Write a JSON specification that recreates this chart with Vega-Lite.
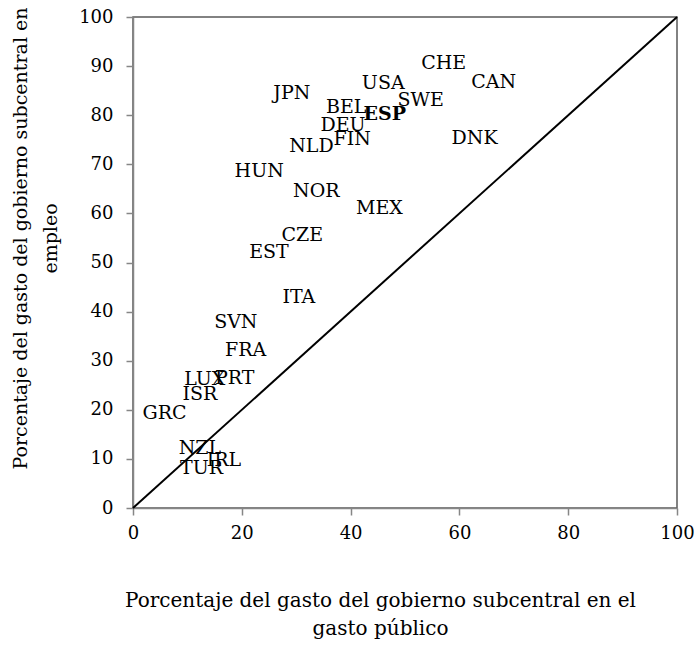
{
  "$schema": "https://vega.github.io/schema/vega-lite/v6.json",
  "width": 544,
  "height": 491,
  "autosize": "none",
  "padding": {"left": 133, "top": 17, "right": 17, "bottom": 138},
  "background": "white",
  "config": {
    "font": "DejaVu Serif",
    "view": {"stroke": "#595959", "strokeWidth": 1.5}
  },
  "datasets": {
    "diag": [{"x": 0, "y": 0, "x2": 100, "y2": 100}],
    "paises": [
      {"pais": "CHE", "gasto": 57.1, "empleo": 90.6},
      {"pais": "CAN", "gasto": 66.3, "empleo": 86.8},
      {"pais": "USA", "gasto": 46.0, "empleo": 86.6},
      {"pais": "JPN", "gasto": 29.2, "empleo": 84.5},
      {"pais": "SWE", "gasto": 52.9, "empleo": 83.0},
      {"pais": "BEL", "gasto": 39.2, "empleo": 81.7},
      {"pais": "ESP", "gasto": 46.3, "empleo": 80.2},
      {"pais": "DEU", "gasto": 38.6, "empleo": 78.0},
      {"pais": "FIN", "gasto": 40.3, "empleo": 75.1},
      {"pais": "NLD", "gasto": 32.8, "empleo": 73.7},
      {"pais": "DNK", "gasto": 62.8, "empleo": 75.4},
      {"pais": "HUN", "gasto": 23.2, "empleo": 68.6},
      {"pais": "NOR", "gasto": 33.7, "empleo": 64.6},
      {"pais": "MEX", "gasto": 45.3, "empleo": 61.0},
      {"pais": "CZE", "gasto": 31.1, "empleo": 55.5},
      {"pais": "EST", "gasto": 25.0, "empleo": 52.1},
      {"pais": "ITA", "gasto": 30.5, "empleo": 43.0},
      {"pais": "SVN", "gasto": 18.9, "empleo": 37.9},
      {"pais": "FRA", "gasto": 20.7, "empleo": 32.2},
      {"pais": "LUX", "gasto": 13.2, "empleo": 26.2},
      {"pais": "PRT", "gasto": 18.7, "empleo": 26.4},
      {"pais": "ISR", "gasto": 12.3, "empleo": 23.2},
      {"pais": "GRC", "gasto": 5.8, "empleo": 19.3},
      {"pais": "NZL", "gasto": 12.3, "empleo": 12.2},
      {"pais": "IRL", "gasto": 16.7, "empleo": 9.8},
      {"pais": "TUR", "gasto": 12.6, "empleo": 8.1}
    ]
  },
  "layer": [
    {
      "data": {"name": "diag"},
      "mark": {"type": "rule", "color": "black", "strokeWidth": 2},
      "encoding": {
        "x": {"field": "x", "type": "quantitative", "scale": {"domain": [0, 100], "nice": false},
          "axis": {
            "values": [0, 20, 40, 60, 80, 100],
            "grid": false,
            "domainColor": "#868686",
            "domainWidth": 1.5,
            "tickColor": "#868686",
            "tickWidth": 1.5,
            "tickSize": 7,
            "labelFontSize": 18,
            "labelColor": "black",
            "labelPadding": 9,
            "labelFlush": false,
            "title": ["Porcentaje del gasto del gobierno subcentral en el", "gasto público"],
            "titleFontSize": 20,
            "titleFontWeight": "normal",
            "titleColor": "black",
            "titleLineHeight": 28,
            "titleBaseline": "middle",
            "titleAnchor": "middle",
            "titleX": 247,
            "titleY": 92
          }
        },
        "y": {"field": "y", "type": "quantitative", "scale": {"domain": [0, 100], "nice": false},
          "axis": {
            "values": [0, 10, 20, 30, 40, 50, 60, 70, 80, 90, 100],
            "grid": false,
            "domainColor": "#868686",
            "domainWidth": 1.5,
            "tickColor": "#868686",
            "tickWidth": 1.5,
            "tickSize": 7,
            "labelFontSize": 18,
            "labelColor": "black",
            "labelPadding": 13,
            "labelFlush": false,
            "title": ["Porcentaje del gasto del gobierno subcentral en", "empleo"],
            "titleFontSize": 19,
            "titleFontWeight": "normal",
            "titleColor": "black",
            "titleLineHeight": 30,
            "titleBaseline": "middle",
            "titleAnchor": "middle",
            "titleX": -113,
            "titleY": 221
          }
        },
        "x2": {"field": "x2"},
        "y2": {"field": "y2"}
      }
    },
    {
      "data": {"name": "paises"},
      "transform": [{"filter": "datum.pais !== 'ESP'"}],
      "mark": {"type": "text", "fontSize": 19, "color": "black", "align": "center", "baseline": "middle"},
      "encoding": {
        "x": {"field": "gasto", "type": "quantitative"},
        "y": {"field": "empleo", "type": "quantitative"},
        "text": {"field": "pais", "type": "nominal"}
      }
    },
    {
      "data": {"name": "paises"},
      "transform": [{"filter": "datum.pais === 'ESP'"}],
      "mark": {"type": "text", "fontSize": 19, "fontWeight": "bold", "color": "black", "align": "center", "baseline": "middle"},
      "encoding": {
        "x": {"field": "gasto", "type": "quantitative"},
        "y": {"field": "empleo", "type": "quantitative"},
        "text": {"field": "pais", "type": "nominal"}
      }
    }
  ]
}
